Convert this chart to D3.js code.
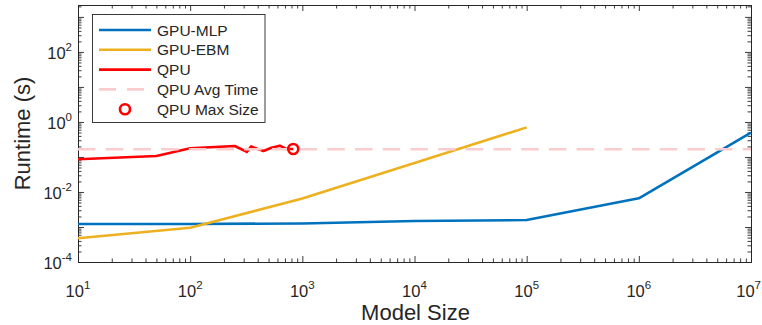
<!DOCTYPE html>
<html>
<head>
<meta charset="utf-8">
<script src="https://cdn.jsdelivr.net/npm/d3@7"></script>
<style>
  html, body { margin: 0; padding: 0; background: #fff; }
  svg { display: block; font-family: "Liberation Sans", Arial, Helvetica, sans-serif; }
</style>
</head>
<body>
<svg id="chart" width="762" height="325"></svg>
<script>
// Runtime vs. model size on log–log axes
const mlpSizes = [1e1, 1e2, 1e3, 1e4, 1e5, 1e6, 1e7];
const mlpTimes = [1.22e-3, 1.22e-3, 1.26e-3, 1.48e-3, 1.58e-3, 6.6e-3, 0.494];

const ebmSizes = [1e1, 1e2, 1e3, 1e4, 1e5];
const ebmTimes = [4.75e-4, 9.55e-4, 6.5e-3, 6.74e-2, 0.70];

const qpuSizes = [10, 50, 100, 250, 320, 350, 400, 450, 530, 630, 720, 830];
const qpuTimes = [0.086, 0.107, 0.177, 0.206, 0.139, 0.200, 0.169, 0.148, 0.184, 0.210, 0.169, 0.169];

const qpuAvgTime = 0.166;
const qpuMaxSize = [830];
const qpuMaxTime = [0.169];

const xTickExps = [1, 2, 3, 4, 5, 6, 7];
const yTickExps = [-4, -2, 0, 2];

const legendLabels = ["GPU-MLP", "GPU-EBM", "QPU", "QPU Avg Time", "QPU Max Size"];

const colors = { mlp: "#0072BD", ebm: "#EDB120", qpu: "#FF0000", avg: "#F9CDCD", ink: "#262626" };

const W = 762;
const svg = d3.select("#chart");
const L = 78, R = 751, T = 5, B = 262;

const x = d3.scaleLog().domain([1e1, 1e7]).range([L, R]);
const y = d3.scaleLog().domain([1e-4, Math.pow(10, 3.34)]).range([B, T]);

// minor tick positions (2..9 within each decade)
function minors(scale) {
  const [a, b] = scale.domain();
  const out = [];
  for (let e = Math.floor(Math.log10(a)); e <= Math.ceil(Math.log10(b)); e++) {
    for (let m = 2; m <= 9; m++) {
      const v = m * Math.pow(10, e);
      if (v > a && v < b) out.push(v);
    }
  }
  return out;
}

const majorLen = 6, minorLen = 3.5;
const axes = svg.append("g").attr("class", "axes");

function drawAxis(gen, transform, values, len) {
  const g = axes.append("g").attr("transform", transform)
    .call(gen.tickValues(values).tickSizeInner(-len).tickSizeOuter(0).tickFormat(() => ""));
  g.select(".domain").attr("stroke", colors.ink).attr("stroke-width", 1);
  g.selectAll(".tick line").attr("stroke", colors.ink).attr("stroke-width", 0.9);
  return g;
}

const xMaj = xTickExps.map(e => Math.pow(10, e));
const yMaj = d3.range(-4, 4).map(e => Math.pow(10, e)).filter(v => v <= y.domain()[1]);

// bottom / top
drawAxis(d3.axisBottom(x), `translate(0,${B})`, xMaj, majorLen);
drawAxis(d3.axisBottom(x), `translate(0,${B})`, minors(x), minorLen);
drawAxis(d3.axisTop(x), `translate(0,${T})`, xMaj, majorLen);
drawAxis(d3.axisTop(x), `translate(0,${T})`, minors(x), minorLen);
// left / right
drawAxis(d3.axisLeft(y), `translate(${L},0)`, yMaj, majorLen);
drawAxis(d3.axisLeft(y), `translate(${L},0)`, minors(y), minorLen);
drawAxis(d3.axisRight(y), `translate(${R},0)`, yMaj, majorLen);
drawAxis(d3.axisRight(y), `translate(${R},0)`, minors(y), minorLen);

// power-of-ten tick labels
const labelSize = 16.5, supSize = 11.5;
const xl = axes.append("g").attr("fill", colors.ink);
xTickExps.forEach(e => {
  const t = xl.append("text").attr("y", 297).attr("text-anchor", "middle").attr("font-size", labelSize);
  t.append("tspan").text("10");
  t.append("tspan").attr("font-size", supSize).attr("dy", -8).text(String(e));
  // centre under the tick, but keep the label inside the page
  const w = t.node().getComputedTextLength();
  const cx = Math.min(x(Math.pow(10, e)), W - 1 - w / 2);
  t.attr("x", cx);
});
const yl = axes.append("g").attr("fill", colors.ink);
yTickExps.forEach(e => {
  const t = yl.append("text").attr("x", 72).attr("y", y(Math.pow(10, e)) + 7)
    .attr("text-anchor", "end").attr("font-size", labelSize);
  t.append("tspan").text("10");
  t.append("tspan").attr("font-size", supSize).attr("dy", -8).text(String(e));
});

// axis titles
svg.append("text").attr("x", (L + R) / 2 + 1).attr("y", 320).attr("text-anchor", "middle")
  .attr("font-size", 22).attr("fill", colors.ink).text("Model Size");
svg.append("text").attr("transform", `translate(30,${(T + B) / 2}) rotate(-90)`)
  .attr("text-anchor", "middle").attr("font-size", 22).attr("fill", colors.ink).text("Runtime (s)");

// series
const line = d3.line().x(d => x(d[0])).y(d => y(d[1]));
const plot = svg.append("g");
plot.append("path").datum(d3.zip(mlpSizes, mlpTimes)).attr("d", line)
  .attr("fill", "none").attr("stroke", colors.mlp).attr("stroke-width", 2.6).attr("stroke-linejoin", "round");
plot.append("path").datum(d3.zip(ebmSizes, ebmTimes)).attr("d", line)
  .attr("fill", "none").attr("stroke", colors.ebm).attr("stroke-width", 2.6).attr("stroke-linejoin", "round");
plot.append("path").datum(d3.zip(qpuSizes, qpuTimes)).attr("d", line)
  .attr("fill", "none").attr("stroke", colors.qpu).attr("stroke-width", 2.6).attr("stroke-linejoin", "round");
plot.append("line").attr("x1", L).attr("x2", R).attr("y1", y(qpuAvgTime)).attr("y2", y(qpuAvgTime))
  .attr("stroke", colors.avg).attr("stroke-width", 2.6).attr("stroke-dasharray", "17.5,10.2");
plot.selectAll("circle.max").data(d3.zip(qpuMaxSize, qpuMaxTime)).join("circle").attr("class", "max")
  .attr("cx", d => x(d[0])).attr("cy", d => y(d[1])).attr("r", 5)
  .attr("fill", "none").attr("stroke", colors.qpu).attr("stroke-width", 2.6);

// legend
const lg = svg.append("g");
lg.append("rect").attr("x", 92.5).attr("y", 14.5).attr("width", 172.5).attr("height", 108)
  .attr("fill", "#fff").attr("stroke", colors.ink).attr("stroke-width", 0.9);
const keys = ["mlp", "ebm", "qpu", "avg", "max"];
legendLabels.forEach((lab, i) => {
  const cy = 30 + i * 19.8;
  if (keys[i] === "max") {
    lg.append("circle").attr("cx", 125).attr("cy", cy).attr("r", 5)
      .attr("fill", "none").attr("stroke", colors.qpu).attr("stroke-width", 2.6);
  } else {
    const ln = lg.append("line").attr("x1", 99).attr("x2", 151).attr("y1", cy).attr("y2", cy)
      .attr("stroke", colors[keys[i]]).attr("stroke-width", 2.6);
    if (keys[i] === "avg") ln.attr("stroke-dasharray", "17,11");
  }
  lg.append("text").attr("x", 157).attr("y", cy + 5.5).attr("font-size", 15.5)
    .attr("fill", colors.ink).text(lab);
});
</script>
</body>
</html>
